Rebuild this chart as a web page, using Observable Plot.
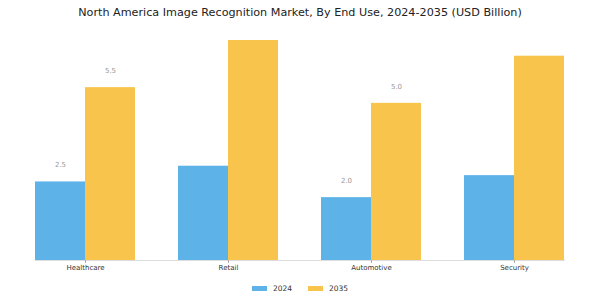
<!DOCTYPE html>
<html><head><meta charset="utf-8">
<script src="https://cdn.jsdelivr.net/npm/d3@7"></script>
<script src="https://cdn.jsdelivr.net/npm/@observablehq/plot@0.6"></script>
<style>
body{margin:0;background:#fff;font-family:"DejaVu Sans",sans-serif;width:600px;height:300px;overflow:hidden}
#title{height:24px;line-height:25px;text-align:center;font-size:11.2px;color:#222;white-space:nowrap}
#chart svg{display:block}
#legend{height:24px;display:flex;justify-content:center;align-items:center;font-size:7.5px;color:#333}
.item{display:flex;align-items:center;margin:0 8px}
.sw{width:15px;height:5px;margin-right:6px}
</style></head><body>
<div id="title">North America Image Recognition Market, By End Use, 2024-2035 (USD Billion)</div>
<div id="chart"></div>
<div id="legend"></div>
<script>
const categories = ["Healthcare", "Retail", "Automotive", "Security"];
const years = ["2024", "2035"];
const values2024 = [2.5, 3.0, 2.0, 2.7];
const values2035 = [5.5, 7.0, 5.0, 6.5];
const labels2024 = ["2.5", null, "2.0", null];
const labels2035 = ["5.5", null, "5.0", null];
const colors = ["#5DB3E8", "#F8C44B"];

const series = {"2024": {v: values2024, l: labels2024}, "2035": {v: values2035, l: labels2035}};
const data = categories.flatMap((c, i) => years.map(y => ({category: c, year: y, value: series[y].v[i], label: series[y].l[i]})));

const plot = Plot.plot({
  width: 600, height: 252,
  marginTop: 5, marginBottom: 16, marginLeft: 7, marginRight: 7,
  style: {fontFamily: "DejaVu Sans", background: "white"},
  fx: {domain: categories, paddingInner: 0.3, paddingOuter: 0.185, label: null},
  x: {domain: years, padding: 0, axis: null},
  y: {domain: [0, 7.35], axis: null},
  color: {domain: years, range: colors},
  marks: [
    Plot.barY(data, {fx: "category", x: "year", y: "value", fill: "year"}),
    Plot.text(data.filter(d => d.label), {fx: "category", x: "year", y: "value", text: "label", dy: -17, fontSize: 7, fill: "#999"}),
    Plot.frame({anchor: "bottom", stroke: "#ddd", facet: "super"}),
    Plot.axisFx({anchor: "bottom", tickSize: 3, tickPadding: 2, fontSize: 7, label: null, stroke: "#aaa", fill: "#333"})
  ]
});
document.getElementById("chart").appendChild(plot);

const leg = document.getElementById("legend");
years.forEach((y, i) => {
  const it = document.createElement("div"); it.className = "item";
  const sw = document.createElement("div"); sw.className = "sw"; sw.style.background = colors[i];
  const t = document.createElement("span"); t.textContent = y;
  it.appendChild(sw); it.appendChild(t); leg.appendChild(it);
});
</script>
</body></html>
